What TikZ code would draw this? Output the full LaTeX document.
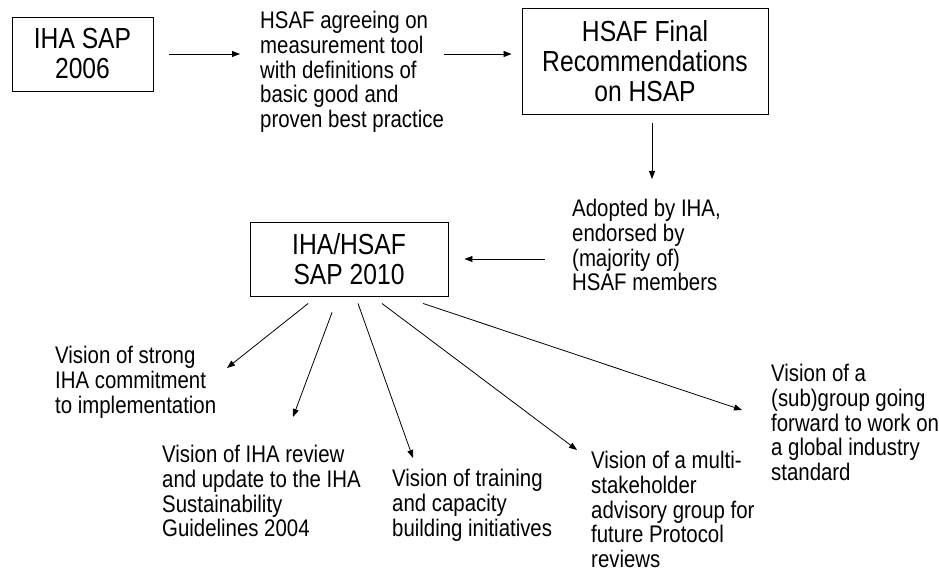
\documentclass[tikz,border=0pt]{standalone}
\usepackage{fontspec}
\setmainfont{Liberation Sans}[FakeStretch=0.85]
\usetikzlibrary{arrows.meta}
\tikzset{
	stage/.style={draw, line width=0.9pt, align=center, inner sep=0pt,
		font=\fontsize{29}{30}\selectfont},
	txt/.style={align=left, inner sep=0pt, anchor=north west,
		font=\fontsize{24}{24.75}\selectfont},
	arr/.style={-{Triangle[length=8pt,width=6pt]}, line width=0.8pt}
}
\begin{document}
\begin{tikzpicture}[x=1pt, y=-1pt]
		\useasboundingbox (0,0) rectangle (939,569);
		\node[stage, minimum width=141pt, minimum height=74pt] (sap06) at (82.5,54)
			{IHA SAP\\2006};
		\node[txt] (agree) at (260,11)
			{HSAF agreeing on\\measurement tool\\with definitions of\\basic good and\\proven best practice};
		\node[stage, minimum width=246pt, minimum height=106pt] (final) at (645,61)
			{HSAF Final\\Recommendations\\on HSAP};
		\node[txt] (adopt) at (572,199)
			{Adopted by IHA,\\endorsed by\\(majority of)\\HSAF members};
		\node[stage, minimum width=198pt, minimum height=74pt] (sap10) at (349,259)
			{IHA/HSAF\\SAP 2010};
		\draw[arr, shorten <=16pt, shorten >=20pt] (sap06.east) -- (sap06.east -| agree.west);
		\draw[arr, shorten >=10pt] (agree.east |- sap06.east) -- (final.west |- sap06.east);
		\draw[arr, shorten <=9pt, shorten >=20pt] ([xshift=7pt]final.south) -- ([xshift=7pt]final.south |- adopt.north);
		\draw[arr, shorten <=27pt, shorten >=16pt] (adopt.west |- sap10.east) -- (sap10.east);
		\node[txt] (vis1) at (55,346)
			{Vision of strong\\IHA commitment\\to implementation};
		\node[txt] (vis2) at (162,445)
			{Vision of IHA review\\and update to the IHA\\Sustainability\\Guidelines 2004};
		\node[txt] (vis3) at (392,469)
			{Vision of training\\and capacity\\building initiatives};
		\node[txt] (vis4) at (591,451)
			{Vision of a multi-\\stakeholder\\advisory group for\\future Protocol\\reviews};
		\node[txt] (vis5) at (771,364)
			{Vision of a\\(sub)group going\\forward to work on\\a global industry\\standard};
		\coordinate (tip1) at (227,368);
		\coordinate (tip2) at (293,417);
		\coordinate (tip3) at (413,458);
		\coordinate (tip4) at (577,450);
		\coordinate (tip5) at (742,410);
		\draw[arr, shorten <=11.3pt] ([xshift=-32pt]sap10.south) -- (tip1);
		\draw[arr, shorten <=17pt] ([xshift=-11pt]sap10.south) -- (tip2);
		\draw[arr, shorten <=7.4pt] ([xshift=6.5pt]sap10.south) -- (tip3);
		\draw[arr, shorten <=11.7pt] ([xshift=23.6pt]sap10.south) -- (tip4);
		\draw[arr, shorten <=22.2pt] ([xshift=53pt]sap10.south) -- (tip5);
	\end{tikzpicture}
\end{document}
